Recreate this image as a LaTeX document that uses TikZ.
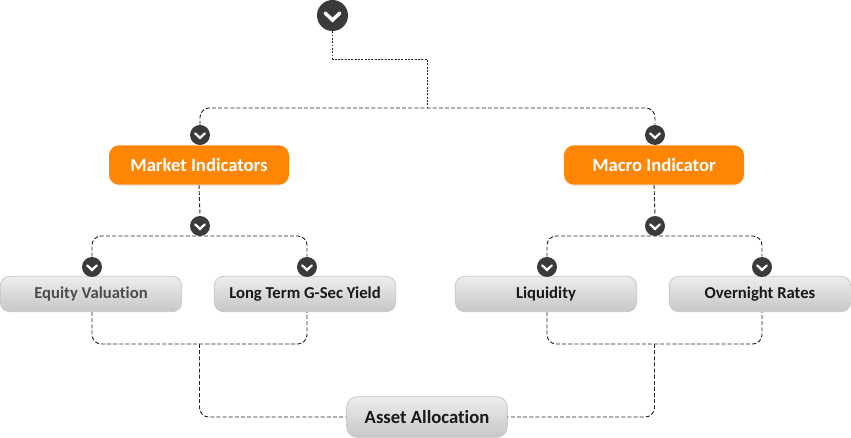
\documentclass[tikz,border=0pt]{standalone}
\usepackage{fontspec}
\setmainfont[Ligatures=NoCommon]{Carlito}
\usetikzlibrary{shadows}
\definecolor{darkdot}{HTML}{3A3A3A}
\definecolor{boxorange}{HTML}{FF8605}
\tikzset{
  chev/.style={circle, fill=darkdot, inner sep=0, minimum size=#1*2*0.75pt, path picture={
    \draw[white, line width=#1*0.17pt, line cap=round, line join=miter]
      ([xshift=-#1*0.36pt, yshift=#1*0.12pt]path picture bounding box.center) --
      ([yshift=-#1*0.22pt]path picture bounding box.center) --
      ([xshift=#1*0.36pt, yshift=#1*0.12pt]path picture bounding box.center);}},
  orangebox/.style={rounded corners=7.5pt, fill=boxorange, text=white, inner sep=0, minimum width=135pt, minimum height=29.5pt, font=\bfseries\fontsize{14}{16}\selectfont, drop shadow={opacity=0.12, shadow xshift=0pt, shadow yshift=-1pt}},
  graybox/.style={rounded corners=7pt, draw=black!22, line width=0.6pt, top color=black!7, bottom color=black!22, text=black!90, inner sep=0, minimum width=136pt, minimum height=26.5pt, font=\bfseries\fontsize{12.5}{15}\selectfont},
  link/.style={black!85, line width=0.7pt, dash pattern=on 3pt off 1.6pt},
  dotlink/.style={black!85, line width=0.7pt, dash pattern=on 1.4pt off 1.1pt},
}
\begin{document}
\begin{tikzpicture}[x=0.75pt, y=-0.75pt]
  \useasboundingbox (0,0) rectangle (851,438);
  % boxes
  \node[orangebox] (market) at (199,165) {Market Indicators};
  \node[orangebox] (macro) at (654,165) {Macro Indicator};
  \node[graybox] (equity) at (91,294) {\textcolor{black!70}{Equity Valuation}};
  \node[graybox] (gsec) at (305,294) {Long Term G-Sec Yield};
  \node[graybox] (liquidity) at (546,294) {Liquidity};
  \node[graybox] (overnight) at (760,294) {Overnight Rates};
  \node[graybox, minimum width=120.5pt, minimum height=30.5pt, rounded corners=8pt, font=\bfseries\fontsize{14}{16}\selectfont] (asset) at (427,417) {Asset Allocation};
  % round arrows
  \node[chev=15.5] (start) at (332.5,15.5) {};
  \node[chev=10] (dotmarket) at (200,135) {};
  \node[chev=10] (dotmacro) at (655,135) {};
  \node[chev=10] (dotmarketb) at (200,226) {};
  \node[chev=10] (dotmacrob) at (655,226) {};
  \node[chev=10] (dotequity) at (92,267) {};
  \node[chev=10] (dotgsec) at (307,267) {};
  \node[chev=10] (dotliquidity) at (547,267) {};
  \node[chev=10] (dotovernight) at (762,267) {};
  % joints
  \coordinate (jointtop) at (427,108);
  \coordinate (jointleft) at (199.5,344);
  \coordinate (jointright) at (654.5,344);
  \coordinate (busmarket) at (199.5,236);
  \coordinate (busmacro) at (654.5,236);
  % links
  \draw[dotlink] (start.south) |- (380,59) -| (jointtop);
  \draw[link, rounded corners=7pt] (dotmarket.north) |- (jointtop) -| (dotmacro.north);
  \draw[link] (market.south) -- (dotmarketb.north);
  \draw[link] (macro.south) -- (dotmacrob.north);
  \draw[link, rounded corners=7pt] (dotequity.north) |- (busmarket) -| (dotgsec.north);
  \draw[link, rounded corners=7pt] (dotliquidity.north) |- (busmacro) -| (dotovernight.north);
  \draw[link, rounded corners=7pt] (dotequity |- equity.south) |- (jointleft) -| (dotgsec |- gsec.south);
  \draw[link, rounded corners=7pt] (dotliquidity |- liquidity.south) |- (jointright) -| (dotovernight |- overnight.south);
  \draw[link, rounded corners=7pt] (jointleft) |- (asset.west);
  \draw[link, rounded corners=7pt] (jointright) |- (asset.east);
\end{tikzpicture}
\end{document}
